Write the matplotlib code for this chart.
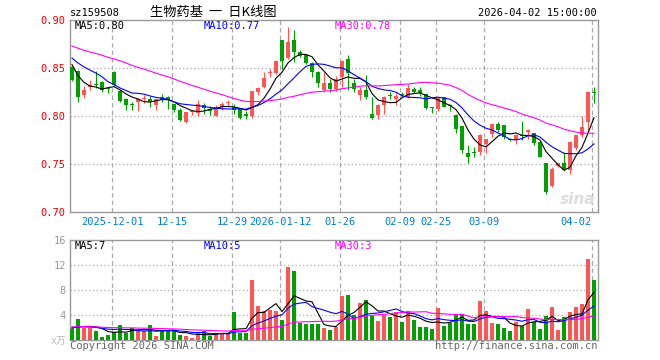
import numpy as np
import pandas as pd
import matplotlib
matplotlib.use("Agg")
import matplotlib.pyplot as plt
import matplotlib.transforms as mtransforms

# daily candles 2025-11-20 .. 2026-04-02
open_ = [0.851, 0.8472, 0.822, 0.8297, 0.8335, 0.8353, 0.8282, 0.8458, 0.8262, 0.8178,
         0.8117, 0.8143, 0.8175, 0.8178, 0.8115, 0.8203, 0.8203, 0.8122, 0.8066, 0.794,
         0.8038, 0.803, 0.8112, 0.8073, 0.8005, 0.8092, 0.8138, 0.8092, 0.8082, 0.8022,
         0.800, 0.8253, 0.8302, 0.8448, 0.8451, 0.879, 0.8605, 0.8792, 0.8663, 0.8635,
         0.8556, 0.8462, 0.8271, 0.8347, 0.8278, 0.8403, 0.859, 0.8347, 0.822, 0.8271,
         0.8021, 0.8014, 0.8115, 0.821, 0.8174, 0.8222, 0.8194, 0.8278, 0.8271, 0.8229,
         0.8092, 0.807, 0.8194, 0.8106, 0.8011, 0.7896, 0.7611, 0.762, 0.763, 0.7708,
         0.7813, 0.7917, 0.7906, 0.7755, 0.7755, 0.780, 0.783, 0.7823, 0.7731, 0.7514,
         0.7266, 0.7476, 0.7514, 0.7433, 0.7663, 0.7802, 0.7941, 0.8247]
high = [0.852, 0.848, 0.8308, 0.8378, 0.8472, 0.836, 0.8297, 0.8465, 0.827, 0.8192,
        0.8143, 0.8192, 0.822, 0.8213, 0.819, 0.8227, 0.821, 0.8125, 0.8083, 0.8045,
        0.806, 0.817, 0.8137, 0.810, 0.8112, 0.815, 0.8165, 0.8125, 0.8085, 0.805,
        0.8265, 0.8305, 0.8458, 0.8493, 0.858, 0.8795, 0.893, 0.8896, 0.8688, 0.8646,
        0.8566, 0.8472, 0.8462, 0.8382, 0.8417, 0.858, 0.8635, 0.8382, 0.8306, 0.8427,
        0.8194, 0.812, 0.821, 0.8254, 0.8236, 0.8254, 0.8333, 0.8299, 0.8299, 0.8243,
        0.8097, 0.8194, 0.8201, 0.8125, 0.802, 0.790, 0.7698, 0.768, 0.781, 0.776,
        0.7931, 0.7941, 0.791, 0.777, 0.7813, 0.7951, 0.7861, 0.7826, 0.7735, 0.7514,
        0.7465, 0.7515, 0.7628, 0.7736, 0.7805, 0.800, 0.826, 0.8306]
low = [0.836, 0.8143, 0.8192, 0.8273, 0.829, 0.8245, 0.8238, 0.831, 0.8143, 0.8063,
       0.8063, 0.8052, 0.8133, 0.8098, 0.8063, 0.815, 0.8073, 0.8038, 0.7944, 0.7925,
       0.801, 0.800, 0.8025, 0.8008, 0.7995, 0.8065, 0.8092, 0.8026, 0.7968, 0.7968,
       0.7978, 0.822, 0.8292, 0.8406, 0.844, 0.8493, 0.859, 0.8566, 0.8611, 0.8542,
       0.8403, 0.8306, 0.8254, 0.8254, 0.8264, 0.8306, 0.8271, 0.8254, 0.8167, 0.8174,
       0.7965, 0.7965, 0.8021, 0.8174, 0.8115, 0.8195, 0.8184, 0.8236, 0.8208, 0.807,
       0.8035, 0.8056, 0.809, 0.8056, 0.7826, 0.7618, 0.7514, 0.7569, 0.7594, 0.7618,
       0.7785, 0.7837, 0.776, 0.7735, 0.7708, 0.7752, 0.776, 0.770, 0.757, 0.719,
       0.7264, 0.747, 0.7422, 0.7396, 0.7646, 0.7785, 0.7845, 0.8135]
close = [0.8378, 0.8203, 0.8273, 0.8325, 0.8328, 0.8273, 0.8278, 0.8325, 0.8157, 0.8115,
         0.8113, 0.8178, 0.818, 0.8143, 0.8178, 0.8178, 0.8168, 0.8063, 0.796, 0.8042,
         0.8042, 0.8127, 0.8087, 0.8052, 0.8092, 0.8127, 0.814, 0.8059, 0.7982, 0.800,
         0.8262, 0.8288, 0.8396, 0.8452, 0.8569, 0.8575, 0.8774, 0.867, 0.8628, 0.8556,
         0.8462, 0.8347, 0.8347, 0.8278, 0.8382, 0.8576, 0.8451, 0.8278, 0.8271, 0.8195,
         0.7976, 0.8115, 0.8201, 0.8206, 0.8208, 0.8215, 0.8288, 0.8254, 0.8236, 0.808,
         0.8088, 0.8184, 0.8097, 0.8102, 0.7861, 0.7646, 0.7569, 0.7616, 0.7802, 0.7757,
         0.7917, 0.7857, 0.7785, 0.775, 0.7807, 0.7795, 0.785, 0.7722, 0.7572, 0.7205,
         0.7452, 0.751, 0.744, 0.7725, 0.7802, 0.7889, 0.8253, 0.8243]
# volume, 10k shares
volume = [1.7, 3.36, 2.0, 2.0, 1.44, 0.53, 0.8, 1.33, 2.4, 1.17,
          1.87, 1.44, 1.44, 2.4, 0.64, 1.44, 1.44, 1.6, 0.8, 0.64,
          0.37, 1.07, 1.44, 0.64, 1.07, 1.07, 1.07, 4.53, 1.17, 1.17,
          9.6, 5.44, 4.64, 4.8, 4.64, 3.2, 11.7, 11.0, 2.77, 2.56,
          2.56, 2.56, 1.92, 1.6, 2.13, 7.04, 7.2, 4.0, 5.87, 6.4,
          3.84, 3.09, 4.0, 3.73, 4.53, 2.88, 4.69, 3.2, 2.13, 2.13,
          1.81, 5.17, 2.29, 2.67, 4.1, 4.1, 2.56, 2.56, 6.29, 4.69,
          2.77, 2.56, 1.97, 1.49, 2.88, 2.24, 5.01, 2.93, 1.81, 3.89,
          5.33, 1.6, 3.73, 4.48, 5.28, 5.76, 12.96, 9.6]

# values before the window, estimated from where the MA lines start
lead_close = [0.888, 0.893, 0.885, 0.879, 0.884, 0.890, 0.882, 0.876, 0.880, 0.886,
              0.879, 0.872, 0.877, 0.883, 0.878, 0.870, 0.874, 0.869, 0.866, 0.871,
              0.872, 0.868, 0.866, 0.864, 0.866, 0.878, 0.862, 0.852, 0.838]
lead_vol = [2.4, 1.9, 2.6, 2.0, 2.3, 1.8, 2.5, 2.1, 2.2, 1.9,
            2.6, 2.0, 2.3, 2.1, 1.9, 2.4, 2.2, 2.0, 2.3, 1.9,
            2.2, 1.9, 2.3, 2.0, 1.95, 2.1, 1.8, 1.9, 1.85]

tick_pos = [7, 17, 27, 35, 45, 55, 61, 69, 87]
tick_txt = ["2025-12-01", "12-15", "12-29", "2026-01-12", "01-26",
            "02-09", "02-25", "03-09", "04-02"]
price_ticks = [0.70, 0.75, 0.80, 0.85, 0.90]
vol_ticks = [4, 8, 12, 16]
ma_price_txt = ["MA5:0.80", "MA10:0.77", "MA30:0.78"]
ma_vol_txt = ["MA5:7", "MA10:5", "MA30:3"]

RED = "#ff5555"
GREEN = "#00a000"
MA_COL = ["black", "#0000ff", "#ff00ff"]
GRID = "#aaaaaa"
MONO = "DejaVu Sans Mono"


def ma(lead, vals, n):
    s = pd.Series(lead + vals).rolling(n).mean().to_numpy()
    return s[len(lead):]


W, H = 660, 360


def box(l, t, r, b):
    return [l / W, 1 - b / H, (r - l) / W, (b - t) / H]


fig = plt.figure(figsize=(6.6, 3.6), dpi=100)
ax = fig.add_axes(box(70, 20, 597.5, 212))
axv = fig.add_axes(box(70, 240, 597.5, 340))

x = np.arange(len(close))
o = np.array(open_)
c = np.array(close)
cols = np.where(c >= o, RED, GREEN)

for a in (ax, axv):
    a.set_xlim(-0.33, 87.58)
    for p in tick_pos:
        a.axvline(p - 0.3, color=GRID, lw=0.9, ls=(0, (3.5, 2.5)), zorder=0)
    for s in a.spines.values():
        s.set_color("#999999")
        s.set_linewidth(1.0)
    a.set_xticks([])
    a.tick_params(length=0, pad=3)

# price panel
ax.set_ylim(0.70, 0.90)
for v in price_ticks[1:-1]:
    ax.axhline(v, color=GRID, lw=0.9, ls=(0, (1, 2)), zorder=0)
ax.vlines(x, low, high, colors=cols, lw=0.8, zorder=2)
ax.bar(x, np.maximum(np.abs(c - o), 0.0009), bottom=np.minimum(o, c),
       width=0.82, color=cols, lw=0, zorder=3)
for n, col in zip([5, 10, 30], MA_COL):
    ax.plot(x, ma(lead_close, close, n), color=col, lw=0.8, zorder=4)
ax.set_yticks(price_ticks)
ax.set_yticklabels(["%.2f" % v for v in price_ticks], color="#ee0000",
                   fontfamily=MONO, fontsize=7.5)

# volume panel
axv.set_ylim(0, 16)
for v in vol_ticks[:-1]:
    axv.axhline(v, color=GRID, lw=0.9, ls=(0, (1, 2)), zorder=0)
axv.bar(x, volume, width=0.82, color=cols, lw=0, zorder=3)
for n, col in zip([5, 10, 30], MA_COL):
    axv.plot(x, ma(lead_vol, volume, n), color=col, lw=0.8, zorder=4)
axv.set_yticks(vol_ticks)
axv.set_yticklabels([str(v) for v in vol_ticks], color="#999999",
                    fontfamily=MONO, fontsize=7.5)

# date labels under the price panel
trans = mtransforms.blended_transform_factory(ax.transData, ax.transAxes)
for p, t in zip(tick_pos, tick_txt):
    if p == tick_pos[-1]:
        ax.text(p - 0.4, -0.05, t, transform=trans, ha="right", va="center",
                color="#0080c8", fontfamily=MONO, fontsize=7.5)
    else:
        ax.text(p - 0.3, -0.05, t, transform=trans, ha="center", va="center",
                color="#0080c8", fontfamily=MONO, fontsize=7.5)

# MA captions
for a, txts, yy in ((ax, ma_price_txt, 26), (axv, ma_vol_txt, 246)):
    for xx, t, col in zip([75, 204, 335], txts, MA_COL):
        fig.text(xx / W, 1 - yy / H, t, color=col, fontfamily=MONO,
                 fontsize=7.5, va="center", ha="left")

fig.text(70 / W, 1 - 12.5 / H, "sz159508", fontfamily=MONO, fontsize=7.5,
         va="center", ha="left")
fig.text(213 / W, 1 - 12.5 / H, "生物药基  一  日K线图", fontsize=9.5,
         fontfamily=["Noto Sans CJK SC", "DejaVu Sans"], va="center", ha="center")
fig.text(597 / W, 1 - 12.5 / H, "2026-04-02 15:00:00", fontfamily=MONO,
         fontsize=7.5, va="center", ha="right")
fig.text(66 / W, 1 - 341 / H, "x万", color="#bbbbbb", fontsize=7,
         fontfamily=[MONO, "Noto Sans CJK SC"], va="center", ha="right")
fig.text(70 / W, 1 - 346 / H, "Copyright 2026 SINA.COM", color="#666666",
         fontfamily=MONO, fontsize=7.5, va="center", ha="left")
fig.text(597 / W, 1 - 346 / H, "http://finance.sina.com.cn", color="#666666",
         fontfamily=MONO, fontsize=7.5, va="center", ha="right")
fig.text(595 / W, 1 - 199 / H, "sina", color="#dddddd", fontsize=11,
         fontweight="bold", fontstyle="italic", va="center", ha="right", zorder=1)

fig.savefig("out.png", dpi=100)
